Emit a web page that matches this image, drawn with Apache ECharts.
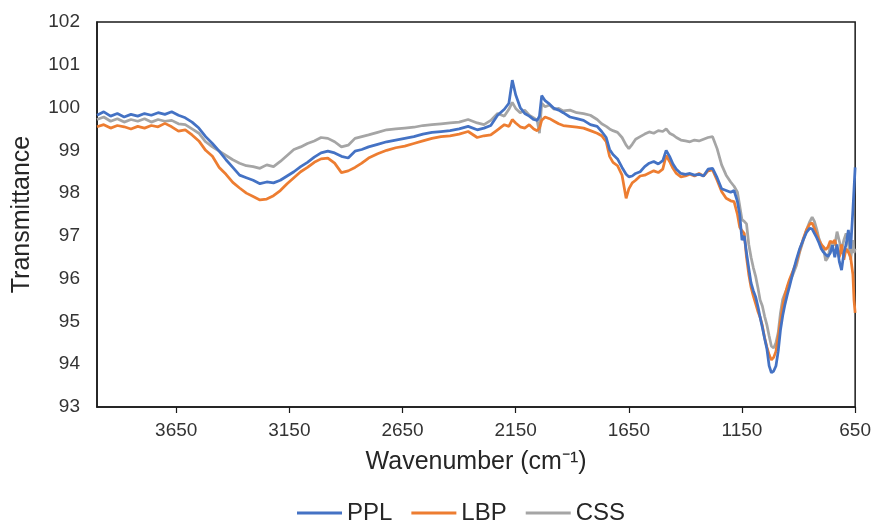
<!DOCTYPE html>
<html>
<head>
<meta charset="utf-8">
<script src="https://cdn.jsdelivr.net/npm/echarts@6/dist/echarts.min.js"></script>
<style>
  html, body { margin: 0; padding: 0; background: #fff; }
  #chart { width: 874px; height: 522px; }
</style>
</head>
<body>
<div id="chart"></div>
<script>
// wavenumber grid (cm-1), shared by the three spectra
const wavenumbers = [
  4000, 3970, 3940, 3910, 3880, 3850, 3820, 3790, 3760, 3730, 3700, 3670, 3640, 3610, 3580, 3550,
  3520, 3490, 3460, 3430, 3400, 3370, 3340, 3310, 3280, 3250, 3220, 3190, 3160, 3130, 3100, 3070,
  3040, 3010, 2980, 2950, 2920, 2890, 2860, 2830, 2800, 2760, 2720, 2680, 2640, 2600, 2560, 2520,
  2480, 2440, 2400, 2360, 2320, 2290, 2260, 2230, 2200, 2180, 2165, 2150, 2130, 2110, 2090, 2070,
  2055, 2045, 2035, 2020, 2000, 1980, 1960, 1940, 1910, 1880, 1850, 1820, 1790, 1770, 1750, 1735,
  1720, 1700, 1680, 1662, 1650, 1635, 1620, 1600, 1580, 1560, 1540, 1520, 1500, 1485, 1470, 1455,
  1440, 1420, 1400, 1380, 1360, 1340, 1320, 1300, 1280, 1260, 1240, 1220, 1200, 1185, 1170, 1160,
  1150, 1140, 1130, 1120, 1110, 1100, 1090, 1080, 1070, 1060, 1050, 1040, 1030, 1020, 1010, 1000,
  990, 980, 970, 960, 950, 940, 925, 910, 895, 880, 865, 850, 840, 830, 820, 810,
  800, 790, 780, 770, 760, 750, 740, 730, 720, 710, 700, 690, 680, 670, 660, 655,
  650
];

const ppl = [
  99.82, 99.90, 99.80, 99.86, 99.78, 99.84, 99.80, 99.86, 99.82, 99.88, 99.84, 99.90, 99.82, 99.76, 99.66, 99.52,
  99.32, 99.16, 98.98, 98.78, 98.60, 98.42, 98.36, 98.30, 98.22, 98.26, 98.24, 98.30, 98.40, 98.50, 98.62, 98.72,
  98.84, 98.94, 98.98, 98.94, 98.86, 98.82, 98.98, 99.02, 99.08, 99.14, 99.20, 99.24, 99.28, 99.32, 99.38, 99.42,
  99.44, 99.46, 99.50, 99.56, 99.48, 99.52, 99.58, 99.82, 99.96, 100.10, 100.64, 100.30, 100.00, 99.86, 99.80, 99.72,
  99.70, 99.80, 100.28, 100.16, 100.08, 99.98, 99.94, 99.88, 99.78, 99.74, 99.70, 99.60, 99.56, 99.44, 99.30, 99.02,
  98.90, 98.80, 98.60, 98.44, 98.38, 98.40, 98.46, 98.50, 98.62, 98.70, 98.74, 98.68, 98.76, 99.00, 98.86, 98.68,
  98.56, 98.46, 98.44, 98.46, 98.42, 98.44, 98.40, 98.56, 98.58, 98.36, 98.10, 98.06, 98.02, 98.06, 97.80, 97.50,
  96.90, 97.00, 96.60, 96.24, 95.90, 95.72, 95.58, 95.36, 95.10, 94.86, 94.60, 94.36, 93.96, 93.80, 93.84, 93.96,
  94.30, 94.80, 95.14, 95.40, 95.62, 95.82, 96.14, 96.44, 96.70, 96.90, 97.08, 97.18, 97.16, 97.06, 96.96, 96.84,
  96.70, 96.62, 96.56, 96.52, 96.60, 96.78, 96.50, 96.80, 96.40, 96.20, 96.60, 96.80, 97.14, 96.70, 97.60, 98.10,
  98.60
];

const lbp = [
  99.55, 99.60, 99.52, 99.58, 99.55, 99.50, 99.56, 99.52, 99.58, 99.55, 99.63, 99.55, 99.45, 99.48, 99.36, 99.22,
  99.00, 98.86, 98.60, 98.44, 98.25, 98.12, 98.00, 97.92, 97.84, 97.86, 97.94, 98.06, 98.22, 98.36, 98.50, 98.60,
  98.72, 98.80, 98.82, 98.70, 98.48, 98.52, 98.60, 98.70, 98.82, 98.92, 99.00, 99.06, 99.10, 99.16, 99.22, 99.28,
  99.32, 99.34, 99.38, 99.44, 99.30, 99.34, 99.36, 99.48, 99.60, 99.56, 99.72, 99.64, 99.55, 99.52, 99.60, 99.50,
  99.46, 99.52, 99.70, 99.78, 99.74, 99.68, 99.62, 99.58, 99.56, 99.54, 99.52, 99.46, 99.40, 99.34, 99.20, 98.86,
  98.72, 98.64, 98.42, 97.88, 98.10, 98.24, 98.30, 98.40, 98.42, 98.47, 98.52, 98.48, 98.56, 98.88, 98.74, 98.58,
  98.46, 98.38, 98.40, 98.44, 98.40, 98.46, 98.40, 98.52, 98.54, 98.30, 98.04, 97.88, 97.82, 97.80, 97.50, 97.20,
  97.12, 97.06, 96.50, 96.10, 95.80, 95.60, 95.42, 95.24, 95.10, 94.90, 94.62, 94.40, 94.22, 94.10, 94.16, 94.30,
  94.64, 95.00, 95.36, 95.62, 95.82, 95.98, 96.18, 96.38, 96.66, 96.92, 97.14, 97.28, 97.30, 97.18, 97.04, 96.90,
  96.80, 96.74, 96.68, 96.74, 96.88, 96.84, 96.90, 96.70, 96.50, 96.80, 96.44, 96.70, 96.62, 96.50, 96.10, 95.50,
  95.20
];

const css = [
  99.72, 99.78, 99.68, 99.74, 99.66, 99.72, 99.68, 99.74, 99.66, 99.72, 99.68, 99.70, 99.62, 99.60, 99.50, 99.40,
  99.20, 99.08, 98.98, 98.88, 98.78, 98.70, 98.64, 98.62, 98.58, 98.66, 98.62, 98.74, 98.88, 99.02, 99.08, 99.16,
  99.22, 99.30, 99.28, 99.20, 99.08, 99.12, 99.28, 99.32, 99.36, 99.42, 99.48, 99.50, 99.52, 99.54, 99.58, 99.60,
  99.62, 99.64, 99.66, 99.72, 99.64, 99.60, 99.70, 99.86, 99.80, 99.96, 100.12, 99.98, 99.88, 99.94, 99.82, 99.76,
  99.70, 99.40, 100.10, 100.02, 100.06, 99.96, 99.98, 99.92, 99.94, 99.88, 99.86, 99.82, 99.72, 99.62, 99.56, 99.50,
  99.46, 99.42, 99.30, 99.12, 99.04, 99.14, 99.26, 99.32, 99.38, 99.43, 99.40, 99.46, 99.44, 99.50, 99.40, 99.36,
  99.30, 99.24, 99.22, 99.20, 99.24, 99.22, 99.26, 99.30, 99.32, 99.04, 98.66, 98.42, 98.26, 98.16, 98.02, 97.70,
  97.38, 97.34, 97.28, 96.80, 96.50, 96.26, 96.06, 95.80, 95.50, 95.36, 95.12, 94.92, 94.66, 94.42, 94.38, 94.50,
  94.74, 95.20, 95.52, 95.66, 95.78, 95.92, 96.10, 96.30, 96.62, 96.88, 97.14, 97.34, 97.44, 97.34, 97.16, 96.94,
  96.80, 96.70, 96.42, 96.50, 96.76, 96.86, 96.78, 97.10, 96.88, 96.66, 96.90, 97.06, 96.84, 96.44, 96.90, 96.60,
  96.70
];

const seriesNames = ["PPL", "LBP", "CSS"];
const seriesColors = ["#4472C4", "#ED7D31", "#A5A5A5"];
const seriesValues = [ppl, lbp, css];

const xTicks = [3650, 3150, 2650, 2150, 1650, 1150, 650];

let chart = echarts.init(document.getElementById("chart"));
const font = "Liberation Sans, Arial, sans-serif";

let option = {
  animation: false,
  textStyle: { fontFamily: font },
  grid: {
    left: 97,
    right: 18,
    top: 22,
    bottom: 115,
    show: true,
    borderColor: "#1a1a1a",
    borderWidth: 1.5,
  },
  xAxis: {
    type: "value",
    min: 650,
    max: 4000,
    interval: 500,
    inverse: true,
    name: "Wavenumber (cm⁻¹)",
    nameLocation: "middle",
    nameGap: 43,
    nameTextStyle: { fontSize: 25, color: "#262626", fontFamily: font },
    axisLine: { lineStyle: { color: "#1a1a1a", width: 1.5 } },
    axisTick: { show: true, length: 6, customValues: xTicks, lineStyle: { color: "#1a1a1a", width: 1.2 } },
    axisLabel: {
      fontSize: 19,
      color: "#333",
      margin: 14,
      fontFamily: font,
      customValues: xTicks,
      formatter: (v) => String(v),
    },
    splitLine: { show: false },
  },
  yAxis: {
    type: "value",
    min: 93,
    max: 102,
    interval: 1,
    name: "Transmittance",
    nameLocation: "middle",
    nameGap: 62,
    nameTextStyle: { fontSize: 25, color: "#262626", fontFamily: font },
    axisLine: { show: true, lineStyle: { color: "#1a1a1a", width: 1.5 } },
    axisTick: { show: false },
    axisLabel: { fontSize: 19, color: "#333", margin: 17, fontFamily: font },
    splitLine: { show: false },
  },
  legend: {
    top: 501,
    left: 297,
    padding: 0,
    icon: "rect",
    itemWidth: 45,
    itemHeight: 3,
    itemGap: 19,
    textStyle: { fontSize: 24, color: "#262626", fontFamily: font },
    data: seriesNames,
  },
  series: seriesNames.map((name, i) => ({
    name: name,
    type: "line",
    data: wavenumbers.map((w, j) => [w, seriesValues[i][j]]),
    showSymbol: false,
    symbol: "none",
    color: seriesColors[i],
    lineStyle: { color: seriesColors[i], width: 2.75 },
    z: 3 - i,
  })),
};

chart.setOption(option);
</script>
</body>
</html>
